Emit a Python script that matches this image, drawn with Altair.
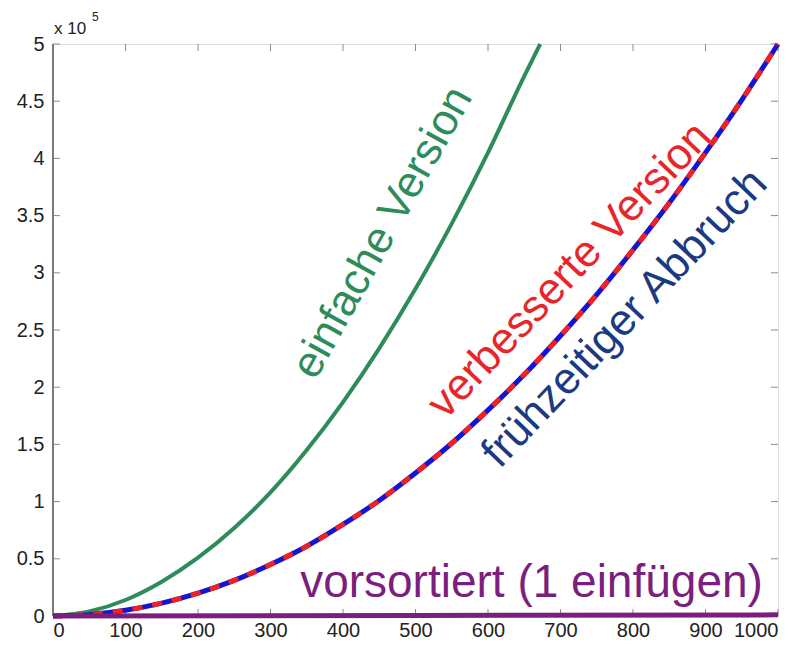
import altair as alt
import pandas as pd

# ---- data ----
green_x = [0, 50, 100, 150, 200, 250, 300, 350, 400, 450, 500, 550, 600, 650, 672]
green_y = [0, 4000, 14000, 30000, 51000, 77000, 108000, 145000, 187000, 234000,
           286000, 343000, 405000, 472000, 500000]

rb_x = [0, 50, 100, 150, 200, 250, 300, 350, 400, 450, 500,
        550, 600, 650, 700, 750, 800, 850, 900, 950, 1000]
rb_y = [0, 1200, 5000, 11200, 20000, 31200, 45000, 61000, 80000, 101000, 125000,
        151000, 180000, 211000, 245000, 281000, 320000, 361000, 405000, 451000, 500000]

purple_x = [0, 500, 1000]
purple_y = [0, 500, 1000]

x_ticks = [0, 100, 200, 300, 400, 500, 600, 700, 800, 900, 1000]
y_ticks = [0, 50000, 100000, 150000, 200000, 250000, 300000, 350000, 400000, 450000, 500000]

label_text = ["einfache Version", "verbesserte Version", "frühzeitiger Abbruch", "vorsortiert (1 einfügen)"]
label_x = [455, 713, 789, 660]
label_y = [335000, 302000, 260000, 29000]
label_angle = [299, 313.5, 313.5, 0]
label_color = ["#2e8b5a", "#e8262a", "#1c3a84", "#7b1f7f"]
label_size = [44, 44, 44, 46]

W, H = 725, 572
FONT = "Liberation Sans"

xs = alt.Scale(domain=[0, 1000], nice=False)
ys = alt.Scale(domain=[0, 500000], nice=False)

green = pd.DataFrame({"x": green_x, "y": green_y})
rb = pd.DataFrame({"x": rb_x, "y": rb_y})
purple = pd.DataFrame({"x": purple_x, "y": purple_y})
labels = pd.DataFrame({"t": label_text, "x": label_x, "y": label_y,
                       "a": label_angle, "c": label_color, "s": label_size})
xt = pd.DataFrame({"v": x_ticks})
yt = pd.DataFrame({"v": y_ticks})

x_axis = alt.Axis(values=x_ticks, ticks=False, domain=False, grid=False, title=None,
                  format="d", labelFontSize=20, labelFont=FONT, labelColor="#222",
                  labelPadding=4)
y_axis = alt.Axis(values=y_ticks, ticks=False, domain=False, grid=False, title=None,
                  labelFontSize=20, labelFont=FONT, labelColor="#222", labelPadding=9,
                  labelExpr="'' + (datum.value / 100000)")

base_line = alt.Chart(green).mark_line(color="#2e8b5a", strokeWidth=4, interpolate="monotone").encode(
    x=alt.X("x:Q", scale=xs, axis=x_axis),
    y=alt.Y("y:Q", scale=ys, axis=y_axis),
)

blue_line = alt.Chart(rb).mark_line(color="#1414d2", strokeWidth=5, interpolate="monotone").encode(
    x=alt.X("x:Q", scale=xs), y=alt.Y("y:Q", scale=ys))
red_line = alt.Chart(rb).mark_line(color="#ee2222", strokeWidth=5, strokeDash=[10, 10],
                                    interpolate="monotone").encode(
    x=alt.X("x:Q", scale=xs), y=alt.Y("y:Q", scale=ys))
purple_line = alt.Chart(purple).mark_line(color="#7b1f7f", strokeWidth=5).encode(
    x=alt.X("x:Q", scale=xs), y=alt.Y("y:Q", scale=ys))

tick_color = "#8a8a8a"
tb = alt.Chart(xt).mark_rule(color=tick_color, strokeWidth=1).encode(
    x=alt.X("v:Q", scale=xs), y=alt.value(H), y2=alt.value(H - 7))
tt = alt.Chart(xt).mark_rule(color=tick_color, strokeWidth=1).encode(
    x=alt.X("v:Q", scale=xs), y=alt.value(0), y2=alt.value(7))
tl = alt.Chart(yt).mark_rule(color=tick_color, strokeWidth=1).encode(
    y=alt.Y("v:Q", scale=ys), x=alt.value(0), x2=alt.value(7))
tr = alt.Chart(yt).mark_rule(color=tick_color, strokeWidth=1).encode(
    y=alt.Y("v:Q", scale=ys), x=alt.value(W), x2=alt.value(W - 7))

left_dom = alt.Chart(xt).mark_rule(color="#7a7a7a", strokeWidth=2).encode(
    x=alt.value(0), y=alt.value(0), y2=alt.value(H))
bottom_dom = alt.Chart(xt).mark_rule(color="#7a7a7a", strokeWidth=2).encode(
    x=alt.value(0), x2=alt.value(W), y=alt.value(H))

texts = alt.Chart(labels).mark_text(font=FONT, align="center", baseline="middle").encode(
    x=alt.X("x:Q", scale=xs), y=alt.Y("y:Q", scale=ys),
    text="t:N", angle=alt.Angle("a:Q", scale=None), color=alt.Color("c:N", scale=None),
    size=alt.Size("s:Q", scale=None))

exp_df = pd.DataFrame({"t": ["x 10"]})
exp_text = alt.Chart(exp_df).mark_text(font=FONT, fontSize=17, align="left", baseline="middle",
                                        color="#222").encode(
    text="t:N", x=alt.value(1), y=alt.value(-15))
sup_df = pd.DataFrame({"t": ["5"]})
sup_text = alt.Chart(sup_df).mark_text(font=FONT, fontSize=12, align="left", baseline="middle",
                                        color="#222").encode(
    text="t:N", x=alt.value(39), y=alt.value(-27))

chart = alt.layer(
    tb, tt, tl, tr, left_dom, bottom_dom,
    base_line, blue_line, red_line, purple_line, texts, exp_text, sup_text
).properties(
    width=W, height=H,
    autosize=alt.AutoSizeParams(type="none"),
    padding={"left": 45, "top": 36, "right": 20, "bottom": 24},
).configure_view(
    stroke="#9a9a9a", strokeWidth=1.2
).configure(background="white")

chart.save("out.html", embed_options={"renderer": "svg", "actions": False})
